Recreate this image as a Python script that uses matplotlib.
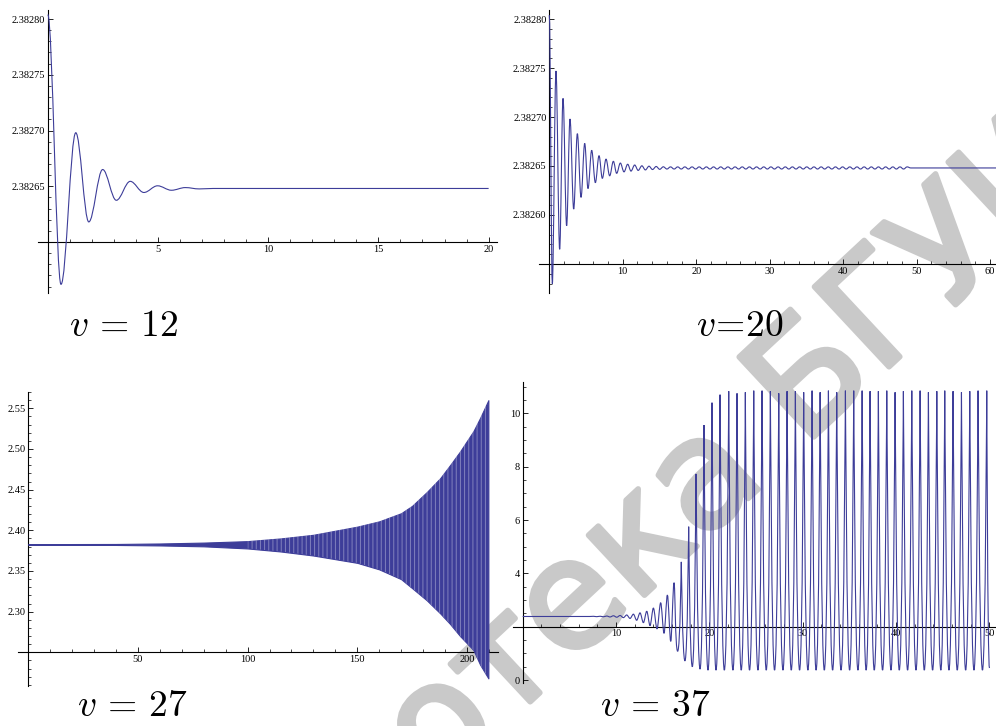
import matplotlib
matplotlib.use("Agg")
import matplotlib.pyplot as plt
import matplotlib.patheffects as pe
from matplotlib.path import Path
from matplotlib.patches import PathPatch
from matplotlib.ticker import MultipleLocator

plt.rcParams['font.family'] = ['Liberation Serif', 'DejaVu Serif']
plt.rcParams['mathtext.fontset'] = 'cm'
plt.rcParams['hatch.linewidth'] = 0.7

W, H = 996, 726
LINE = '#3d3d99'

# ---- v = 12 : extrema of the damped oscillation (deviation in 1e-6 from base)
tl_base = 2.382648
tl_t = [0.00, 0.60, 1.27, 1.86, 2.49, 3.11, 3.74, 4.36, 4.98, 5.61, 6.24, 6.87, 7.50, 20.0]
tl_dev = [156, -86, 50, -30, 17, -10.6, 6.4, -3.6, 2.4, -1.6, 0.8, -0.4, 0, 0]

# ---- v = 20
tr_base = 2.382648
tr_t = [0.00, 0.41, 0.91, 1.41, 1.87, 2.36, 2.82, 3.32, 3.82, 4.32, 4.82, 5.27,
        5.77, 6.27, 6.77, 7.22, 7.72, 8.22, 8.72, 9.17, 9.67, 10.17, 10.67,
        11.12, 11.62, 12.10, 12.60, 13.08, 13.57, 14.05, 14.55, 15.03, 15.52,
        16.01, 16.50, 16.99, 17.48, 17.96, 18.45, 18.94, 19.43, 19.92, 20.40,
        20.89, 21.38, 21.87, 22.36, 22.84, 23.33, 23.82, 24.31, 24.80, 25.28,
        25.77, 26.26, 26.75, 27.24, 27.72, 28.21, 28.70, 29.19, 29.68, 30.16,
        30.65, 31.14, 31.63, 32.12, 32.60, 33.09, 33.58, 34.07, 34.56, 35.04,
        35.53, 36.02, 36.51, 37.00, 37.48, 37.97, 38.46, 38.95, 39.44, 39.92,
        40.41, 40.90, 41.39, 41.88, 42.36, 42.85, 43.34, 43.83, 44.32, 44.80,
        45.29, 45.78, 46.27, 46.76, 47.24, 47.73, 48.22, 48.71, 49.20, 60.8]
tr_dev = [156, -118, 99, -83, 71, -59, 50, -42, 35, -30, 25, -21,
          18, -15, 12.5, -10.6, 9, -8, 6.8, -5.5, 5, -4, 3.8,
          -3.2, 3, -2.5, 2.2, -2, 1.8, -1.6, 1.5, -1.4, 1.2,
          -1.1, 1.1, -1.1, 1.1, -1.1, 1.1, -1.1, 1.1, -1.1, 1.1,
          -1.1, 1.1, -1.1, 1.1, -1.1, 1.1, -1.1, 1.1, -1.1, 1.1,
          -1.1, 1.1, -1.1, 1.1, -1.1, 1.1, -1.1, 1.1, -1.1, 1.1,
          -1.1, 1.1, -1.1, 1.1, -1.1, 1.1, -1.1, 1.1, -1.1, 1.1,
          -1.1, 1.1, -1.1, 1.1, -1.1, 1.1, -1.1, 1.1, -1.1, 1.1,
          -1.1, 1.1, -1.1, 1.1, -1.1, 1.1, -1.1, 1.1, -1.1, 1.1,
          -1.1, 1.1, -1.1, 1.1, -1.1, 1.1, -1.1, 1.1, 0, 0]

# ---- v = 27 : envelope of the growing oscillation
bl_t = [0, 20, 40, 60, 80, 100, 115, 130, 140, 150, 160, 170, 175,
        181.7, 187.8, 192.3, 196.9, 203, 206, 209.8]
bl_hi = [2.3831, 2.3831, 2.3832, 2.3838, 2.3849, 2.3867, 2.3900, 2.3945,
         2.3995, 2.4045, 2.4110, 2.4210, 2.4300, 2.4470, 2.4640, 2.4800,
         2.4970, 2.5220, 2.5380, 2.5600]
bl_lo = [2.3821, 2.3821, 2.3820, 2.3814, 2.3803, 2.3777, 2.3740, 2.3690,
         2.3645, 2.3600, 2.3520, 2.3400, 2.3290, 2.3140, 2.2980, 2.2850,
         2.2700, 2.2528, 2.2350, 2.2180]

# ---- v = 37 : extrema of the relaxation oscillation
br_t = [0.0, 7.20, 7.57, 7.93, 8.29, 8.65, 9.00, 9.36, 9.72, 10.08, 10.43,
        10.79, 11.14, 11.50, 11.86, 12.21, 12.57, 12.93, 13.29, 13.64, 14.00,
        14.39, 14.78, 15.14, 15.50, 15.86, 16.21, 16.60, 16.99, 17.38, 17.78,
        18.17, 18.57, 19.00, 19.42, 19.85, 20.28, 20.71, 21.14, 21.60, 22.07,
        22.52, 22.96, 23.41, 23.85, 24.30, 24.75, 25.20, 25.64, 26.09, 26.53,
        26.98, 27.43, 27.88, 28.32, 28.77, 29.21, 29.66, 30.10, 30.55, 31.00,
        31.43, 31.86, 32.31, 32.75, 33.20, 33.64, 34.10, 34.57, 35.02, 35.46,
        35.91, 36.36, 36.79, 37.21, 37.66, 38.10, 38.55, 39.00, 39.45, 39.89,
        40.34, 40.78, 41.23, 41.68, 42.13, 42.57, 43.02, 43.46, 43.91, 44.36,
        44.79, 45.21, 45.66, 46.10, 46.55, 47.00, 47.45, 47.89, 48.34, 48.78,
        49.25, 49.71, 50.0]
br_v = [2.383, 2.383, 2.390, 2.376, 2.392, 2.372, 2.400, 2.365, 2.410, 2.355,
        2.420, 2.340, 2.440, 2.310, 2.470, 2.240, 2.520, 2.150, 2.580, 2.040,
        2.700, 1.920, 2.900, 1.750, 3.190, 1.450, 3.650, 1.080, 4.430, 0.720,
        5.750, 0.500, 7.730, 0.410, 9.560, 0.370, 10.40, 0.37, 10.70, 0.37,
        10.83, 0.37, 10.75, 0.37, 10.79, 0.37, 10.85, 0.37, 10.85, 0.37,
        10.83, 0.37, 10.75, 0.37, 10.83, 0.37, 10.83, 0.37, 10.79, 0.37,
        10.85, 0.37, 10.79, 0.37, 10.85, 0.37, 10.79, 0.37, 10.85, 0.37,
        10.85, 0.37, 10.85, 0.37, 10.83, 0.37, 10.83, 0.37, 10.85, 0.37,
        10.79, 0.37, 10.83, 0.37, 10.85, 0.37, 10.85, 0.37, 10.79, 0.37,
        10.83, 0.37, 10.85, 0.37, 10.83, 0.37, 10.79, 0.37, 10.83, 0.37,
        10.85, 0.37, 10.85, 0.45]


def px_axes(fig, x0, x1, y_top, y_bot):
    return fig.add_axes([x0 / W, 1 - y_bot / H, (x1 - x0) / W, (y_bot - y_top) / H])


def wave_path(ts, vs, ks):
    # smooth curve through extrema, horizontal tangent at every extremum
    verts = [(ts[0], vs[0])]
    codes = [Path.MOVETO]
    for i in range(len(ts) - 1):
        dt = ts[i + 1] - ts[i]
        verts += [(ts[i] + ks[i] * dt, vs[i]),
                  (ts[i + 1] - ks[i + 1] * dt, vs[i + 1]),
                  (ts[i + 1], vs[i + 1])]
        codes += [Path.CURVE4] * 3
    return Path(verts, codes)


def mma_axes(ax, xlim, ylim, y_origin, xt, xminor, yt, ylab, yminor):
    ax.set_facecolor('none')
    ax.set_xlim(xlim)
    ax.set_ylim(ylim)
    for s in ['top', 'right']:
        ax.spines[s].set_visible(False)
    ax.spines['left'].set_position(('data', 0))
    ax.spines['bottom'].set_position(('data', y_origin))
    for s in ['left', 'bottom']:
        ax.spines[s].set_linewidth(0.8)
        ax.spines[s].set_zorder(1)
    ax.set_xticks(xt, [str(v) for v in xt])
    ax.set_yticks(yt, ylab)
    ax.xaxis.set_minor_locator(MultipleLocator(xminor))
    ax.yaxis.set_minor_locator(MultipleLocator(yminor))
    ax.tick_params(which='major', direction='in', length=3.5, width=0.6,
                   labelsize=7.5, pad=2)
    ax.tick_params(which='minor', direction='in', length=2, width=0.5)


fig = plt.figure(figsize=(W / 100, H / 100), dpi=100)

# library watermark, drawn underneath the plots
WM = '#c9c9c9'
wm = dict(fontsize=108, color=WM, family='DejaVu Sans', rotation=43,
          rotation_mode='anchor', va='baseline', zorder=-5,
          path_effects=[pe.withStroke(linewidth=4, foreground=WM)])
fig.text(768 / W, 1 - 480 / H, 'Библиотека', ha='right', **wm)
fig.text(803 / W, 1 - 447 / H, 'БГУИР', ha='left', **wm)

# v = 12
ax1 = px_axes(fig, 38.3, 497, 10, 292.7)
tl_v = [tl_base + d * 1e-6 for d in tl_dev]
ax1.add_patch(PathPatch(wave_path(tl_t, tl_v, [0.36] * len(tl_t)),
                        facecolor='none', edgecolor=LINE, lw=0.8, zorder=3))
yt = [2.38265, 2.38270, 2.38275, 2.38280]
mma_axes(ax1, (-0.43, 20.38), (2.3825545, 2.3828081), 2.38260,
         [5, 10, 15, 20], 1, yt, ['%.5f' % v for v in yt], 1e-5)

# v = 20
ax2 = px_axes(fig, 539.3, 996, 10, 292.7)
tr_v = [tr_base + d * 1e-6 for d in tr_dev]
ax2.add_patch(PathPatch(wave_path(tr_t, tr_v, [0.36] * len(tr_t)),
                        facecolor='none', edgecolor=LINE, lw=0.8, zorder=3))
yt = [2.38260, 2.38265, 2.38270, 2.38275, 2.38280]
mma_axes(ax2, (-1.36, 60.8), (2.3825207, 2.3828092), 2.38255,
         [10, 20, 30, 40, 50, 60], 2, yt, ['%.5f' % v for v in yt], 1e-5)

# v = 27
ax3 = px_axes(fig, 18.3, 498, 391.7, 686)
ax3.fill_between(bl_t, bl_lo, bl_hi, facecolor=LINE, edgecolor=LINE,
                 lw=0.8, zorder=3)
# light vertical striping of the densely packed oscillations
ax3.fill_between(bl_t, bl_lo, bl_hi, where=[t >= 100 for t in bl_t],
                 facecolor='none', edgecolor=(1, 1, 1, 0.35), hatch='||||',
                 lw=0, zorder=4)
yt = [2.30, 2.35, 2.40, 2.45, 2.50, 2.55]
mma_axes(ax3, (-4.56, 214.2), (2.2086, 2.5704), 2.25,
         [50, 100, 150, 200], 10, yt, ['%.2f' % v for v in yt], 0.01)

# v = 37
ax4 = px_axes(fig, 512.7, 996, 381.7, 683)
br_k = [0.03 if v > 4 else (0.7 if v < 1.2 else 0.33) for v in br_v]
ax4.add_patch(PathPatch(wave_path(br_t, br_v, br_k),
                        facecolor='none', edgecolor=LINE, lw=0.8, zorder=3))
yt = [0, 4, 6, 8, 10]
mma_axes(ax4, (-1.07, 50.7), (-0.111, 11.186), 2,
         [10, 20, 30, 40, 50], 2, yt, [str(v) for v in yt], 0.5)

# captions
caps = [(69, 336, r'$v\,=\,12$'), (696, 336, r'$v\!=\!20$'),
        (77, 716, r'$v\,=\,27$'), (600, 716, r'$v\,=\,37$')]
for x, y, s in caps:
    fig.text(x / W, 1 - y / H, s, fontsize=27, ha='left', va='baseline')

fig.savefig('out.png', dpi=100)
